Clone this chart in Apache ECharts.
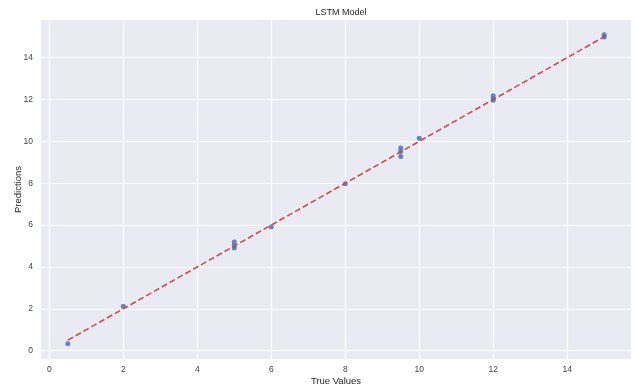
<!DOCTYPE html>
<html>
<head>
<meta charset="utf-8">
<script src="https://cdn.jsdelivr.net/npm/echarts@6/dist/echarts.min.js"></script>
<style>
  html, body { margin: 0; padding: 0; background: #fff; }
  #main { width: 635px; height: 389px; }
</style>
</head>
<body>
<div id="main"></div>
<script>
// 数据
var trueVals = [0.5, 2, 5, 5, 5, 6, 8, 9.5, 9.5, 9.5, 10, 12, 12, 12, 15, 15];
var preds = [0.33, 2.12, 4.91, 5.02, 5.19, 5.91, 7.98, 9.28, 9.52, 9.68, 10.15, 11.96, 12.05, 12.18, 14.99, 15.1];
var lineX = [0.5, 15];
var lineY = [0.5, 15];

var points = trueVals.map(function(v, i){ return [v, preds[i]]; });
var ideal = lineX.map(function(v, i){ return [v, lineY[i]]; });

var chart = echarts.init(document.getElementById('main'));
var labelFont = 'Liberation Sans';
option = {
  animation: false,
  title: {
    text: 'LSTM Model',
    left: 336,
    textAlign: 'center',
    top: 3,
    textStyle: { color: '#262626', fontSize: 9, fontWeight: 'normal', fontFamily: labelFont }
  },
  grid: {
    left: 41, right: 4, top: 20, bottom: 30,
    outerBoundsMode: 'none',
    show: true, backgroundColor: '#EAEAF2', borderWidth: 0
  },
  xAxis: {
    type: 'value',
    min: -0.225, max: 15.725,
    splitNumber: 8, minInterval: 2, maxInterval: 2,
    name: 'True Values',
    nameLocation: 'middle',
    nameGap: 17,
    nameMoveOverlap: false,
    nameTextStyle: { color: '#262626', fontSize: 9.5, fontFamily: labelFont },
    axisLine: { show: false },
    axisTick: { show: false },
    axisLabel: { color: '#444', fontSize: 8.5, fontFamily: labelFont, margin: 6, showMinLabel: false, showMaxLabel: false },
    splitLine: { show: true, showMinLine: false, showMaxLine: false, lineStyle: { color: '#fff', width: 1.2 } }
  },
  yAxis: {
    type: 'value',
    min: -0.4, max: 15.8,
    splitNumber: 8, minInterval: 2, maxInterval: 2,
    name: 'Predictions',
    nameLocation: 'middle',
    nameGap: 18,
    nameMoveOverlap: false,
    nameTextStyle: { color: '#262626', fontSize: 9.5, fontFamily: labelFont },
    axisLine: { show: false },
    axisTick: { show: false },
    axisLabel: { color: '#444', fontSize: 8.5, fontFamily: labelFont, margin: 8, showMinLabel: false, showMaxLabel: false },
    splitLine: { show: true, showMinLine: false, showMaxLine: false, lineStyle: { color: '#fff', width: 1.2 } }
  },
  series: [
    {
      type: 'scatter',
      data: points,
      symbolSize: 5,
      itemStyle: { color: '#4C72B0', opacity: 0.85 },
      z: 2
    },
    {
      type: 'line',
      data: ideal,
      symbol: 'none',
      lineStyle: { color: '#C44E52', width: 1.6, type: [6, 3] },
      z: 3
    }
  ]
};
chart.setOption(option);
</script>
</body>
</html>
